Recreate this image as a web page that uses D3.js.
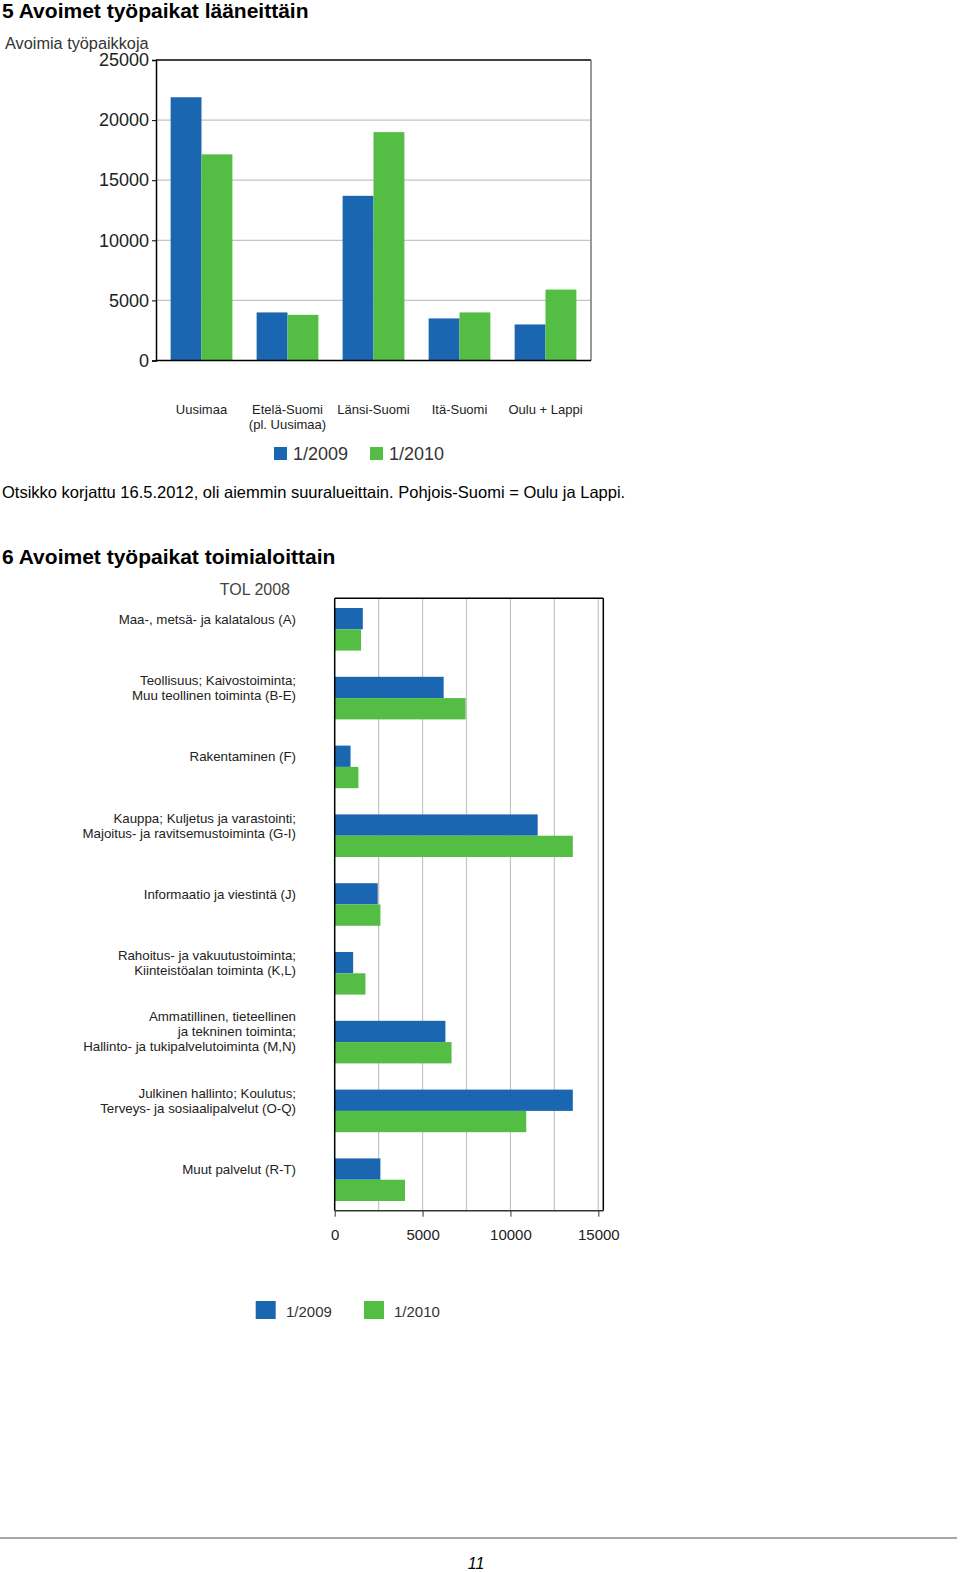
<!DOCTYPE html>
<html><head><meta charset="utf-8">
<script src="https://cdn.jsdelivr.net/npm/d3@7"></script>
<style>
html,body{margin:0;padding:0;background:#fff;}
svg{display:block;}
text{font-family:"Liberation Sans", Arial, sans-serif;}
</style></head>
<body>
<script>
// ---- Data ----
const regions = [["Uusimaa"], ["Etelä-Suomi", "(pl. Uusimaa)"], ["Länsi-Suomi"], ["Itä-Suomi"], ["Oulu + Lappi"]];
const regions2009 = [21900, 4000, 13700, 3500, 3000];
const regions2010 = [17150, 3800, 19000, 4000, 5900];
const yTicks1 = [0, 5000, 10000, 15000, 20000, 25000];

const industries = [
  ["Maa-, metsä- ja kalatalous (A)"],
  ["Teollisuus; Kaivostoiminta;", "Muu teollinen toiminta (B-E)"],
  ["Rakentaminen (F)"],
  ["Kauppa; Kuljetus ja varastointi;", "Majoitus- ja ravitsemustoiminta (G-I)"],
  ["Informaatio ja viestintä (J)"],
  ["Rahoitus- ja vakuutustoiminta;", "Kiinteistöalan toiminta (K,L)"],
  ["Ammatillinen, tieteellinen", "ja tekninen toiminta;", "Hallinto- ja tukipalvelutoiminta (M,N)"],
  ["Julkinen hallinto; Koulutus;", "Terveys- ja sosiaalipalvelut (O-Q)"],
  ["Muut palvelut (R-T)"]
];
const ind2009 = [1600, 6200, 900, 11550, 2450, 1050, 6300, 13550, 2600];
const ind2010 = [1500, 7450, 1350, 13550, 2600, 1750, 6650, 10900, 4000];
const xTicks2 = [0, 5000, 10000, 15000];
const xGrid2 = [2500, 5000, 7500, 10000, 12500, 15000];
const seriesNames = ["1/2009", "1/2010"];
const colors = ["#1b66b0", "#54bd44"];

// ---- SVG ----
const svg = d3.select("body").append("svg").attr("width", 960).attr("height", 1572);
svg.append("rect").attr("width", 960).attr("height", 1572).attr("fill", "#fff");

// Titles
svg.append("text").attr("x", 2).attr("y", 18).attr("font-size", 21).attr("font-weight", "bold")
  .attr("fill", "#000").text("5 Avoimet työpaikat lääneittäin");
svg.append("text").attr("x", 2).attr("y", 564).attr("font-size", 21).attr("font-weight", "bold")
  .attr("fill", "#000").text("6 Avoimet työpaikat toimialoittain");

// ===== Chart 5 =====
const c1 = {left: 156, right: 591, top: 60, bottom: 360.5};
const y1 = d3.scaleLinear().domain([0, 25000]).range([c1.bottom, c1.top]);
const x1 = d3.scaleBand().domain(d3.range(regions.length)).range([c1.left, c1.right])
  .paddingInner(0.282).paddingOuter(0.17);
const x1s = d3.scaleBand().domain([0, 1]).range([0, x1.bandwidth()]);

svg.append("text").attr("x", 5).attr("y", 49).attr("font-size", 16.3).attr("fill", "#333")
  .text("Avoimia työpaikkoja");

// gridlines
svg.append("g").selectAll("line").data(yTicks1.filter(d => d > 0 && d < 25000)).join("line")
  .attr("x1", c1.left).attr("x2", c1.right).attr("y1", d => y1(d)).attr("y2", d => y1(d))
  .attr("stroke", "#c4c4c4").attr("stroke-width", 1.2);

// bars
const g1 = svg.append("g");
regions.forEach((r, i) => {
  [regions2009[i], regions2010[i]].forEach((v, s) => {
    g1.append("rect").attr("x", x1(i) + x1s(s)).attr("width", x1s.bandwidth())
      .attr("y", y1(v)).attr("height", y1(0) - y1(v)).attr("fill", colors[s]);
  });
});

// frame
svg.append("line").attr("x1", c1.left).attr("x2", c1.right).attr("y1", c1.top).attr("y2", c1.top)
  .attr("stroke", "#000").attr("stroke-width", 1.5);
svg.append("line").attr("x1", c1.right).attr("x2", c1.right).attr("y1", c1.top).attr("y2", c1.bottom)
  .attr("stroke", "#777").attr("stroke-width", 1.5);
svg.append("line").attr("x1", c1.left).attr("x2", c1.right).attr("y1", c1.bottom).attr("y2", c1.bottom)
  .attr("stroke", "#000").attr("stroke-width", 1.5);

const ax1 = svg.append("g").attr("transform", `translate(${c1.left},0)`)
  .call(d3.axisLeft(y1).tickValues(yTicks1).tickSize(4).tickPadding(3).tickFormat(d3.format("d")));
ax1.select(".domain").attr("stroke", "#000").attr("stroke-width", 1.5);
ax1.selectAll(".tick line").attr("stroke", "#000");
ax1.selectAll(".tick text").attr("font-size", 18).attr("fill", "#222")
  .attr("font-family", '"Liberation Sans", Arial, sans-serif');

// category labels
regions.forEach((r, i) => {
  const cx = x1(i) + x1.bandwidth() / 2;
  r.forEach((line, k) => {
    svg.append("text").attr("x", cx).attr("y", 414 + k * 15).attr("text-anchor", "middle")
      .attr("font-size", 13).attr("fill", "#222").text(line);
  });
});

// legend
const leg1 = [{x: 274, tx: 293}, {x: 370, tx: 389}];
seriesNames.forEach((n, s) => {
  svg.append("rect").attr("x", leg1[s].x).attr("y", 447).attr("width", 13).attr("height", 13).attr("fill", colors[s]);
  svg.append("text").attr("x", leg1[s].tx).attr("y", 460).attr("font-size", 18).attr("fill", "#333").text(n);
});

// caption
svg.append("text").attr("x", 2).attr("y", 498).attr("font-size", 16.5).attr("fill", "#000")
  .text("Otsikko korjattu 16.5.2012, oli aiemmin suuralueittain. Pohjois-Suomi = Oulu ja Lappi.");

// ===== Chart 6 =====
const c2 = {left: 334.7, right: 603.3, top: 598.3, bottom: 1210.7};
const x2 = d3.scaleLinear().domain([0, 15000]).range([334.7, 598.3]);
const y2 = d3.scaleBand().domain(d3.range(industries.length)).range([c2.top, c2.bottom])
  .paddingInner(0.381).paddingOuter(0.141);
const y2s = d3.scaleBand().domain([0, 1]).range([0, y2.bandwidth()]);

svg.append("text").attr("x", 290).attr("y", 595).attr("text-anchor", "end").attr("font-size", 16)
  .attr("fill", "#444").text("TOL 2008");

// gridlines
svg.append("g").selectAll("line").data(xGrid2).join("line")
  .attr("x1", d => x2(d)).attr("x2", d => x2(d)).attr("y1", c2.top).attr("y2", c2.bottom)
  .attr("stroke", "#c4c4c4").attr("stroke-width", 1.2);

// bars
const g2 = svg.append("g");
industries.forEach((r, i) => {
  [ind2009[i], ind2010[i]].forEach((v, s) => {
    g2.append("rect").attr("x", x2(0)).attr("width", x2(v) - x2(0))
      .attr("y", y2(i) + y2s(s)).attr("height", y2s.bandwidth()).attr("fill", colors[s]);
  });
});

// frame
svg.append("line").attr("x1", c2.left).attr("x2", c2.right).attr("y1", c2.top).attr("y2", c2.top)
  .attr("stroke", "#000").attr("stroke-width", 1.5);
svg.append("line").attr("x1", c2.right).attr("x2", c2.right).attr("y1", c2.top).attr("y2", c2.bottom)
  .attr("stroke", "#000").attr("stroke-width", 1.5);
svg.append("line").attr("x1", c2.left).attr("x2", c2.left).attr("y1", c2.top).attr("y2", c2.bottom)
  .attr("stroke", "#000").attr("stroke-width", 1.5);

const ax2 = svg.append("g").attr("transform", `translate(0,${c2.bottom})`)
  .call(d3.axisBottom(x2).tickValues(xTicks2).tickSize(6).tickPadding(13).tickFormat(d3.format("d")));
ax2.select(".domain").attr("d", `M${c2.left},0H${c2.right}`).attr("stroke", "#333").attr("stroke-width", 1.5);
ax2.selectAll(".tick line").attr("stroke", "#333");
ax2.selectAll(".tick text").attr("font-size", 15).attr("fill", "#222")
  .attr("font-family", '"Liberation Sans", Arial, sans-serif');

// category labels (centered on first bar)
industries.forEach((r, i) => {
  const cy = y2(i) + y2s(0) + y2s.bandwidth() / 2;
  const n = r.length;
  r.forEach((line, k) => {
    svg.append("text").attr("x", 296).attr("y", cy + (k - (n - 1) / 2) * 15 + 5)
      .attr("text-anchor", "end").attr("font-size", 13.3).attr("fill", "#222").text(line);
  });
});

// legend
const leg2 = [{x: 255.7, tx: 286}, {x: 364, tx: 394}];
seriesNames.forEach((n, s) => {
  svg.append("rect").attr("x", leg2[s].x).attr("y", 1301).attr("width", 20).attr("height", 18).attr("fill", colors[s]);
  svg.append("text").attr("x", leg2[s].tx).attr("y", 1317).attr("font-size", 15).attr("fill", "#333").text(n);
});

// footer
svg.append("line").attr("x1", 0).attr("x2", 957).attr("y1", 1538).attr("y2", 1538)
  .attr("stroke", "#888").attr("stroke-width", 1.5);
svg.append("text").attr("x", 476).attr("y", 1569).attr("text-anchor", "middle").attr("font-size", 16)
  .attr("font-style", "italic").attr("fill", "#000").text("11");
</script>
</body></html>
